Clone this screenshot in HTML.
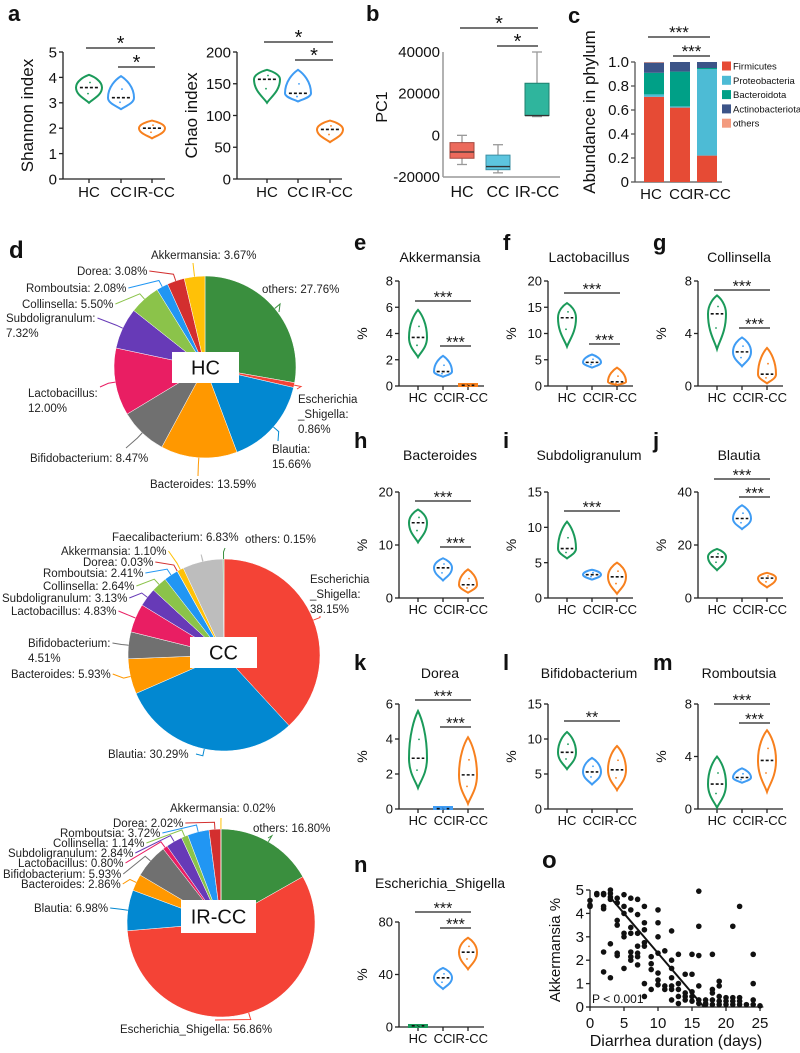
<!DOCTYPE html>
<html><head><meta charset="utf-8"><style>
html,body{margin:0;padding:0;background:#fff;}
svg{display:block;font-family:"Liberation Sans",Arial,sans-serif;}
</style></head><body>
<svg id="fig" width="800" height="1053" viewBox="0 0 800 1053" xmlns="http://www.w3.org/2000/svg"></svg>
<script>
// ---------- DATA ----------
const groups=['HC','CC','IR-CC'];
const shannonMin=[3.0,2.75,1.6], shannonMed=[3.6,3.2,2.0], shannonMax=[4.1,4.05,2.3];
const chaoMin=[120,122,58], chaoMed=[157,135,78], chaoMax=[172,172,92];
const pcLow=[-14000,-18000,9000], pcQ1=[-11000,-16500,9500], pcMed=[-8000,-15000,9500], pcQ3=[-3500,-9500,25000], pcHigh=[0,-4500,40000];
const phyla=['Firmicutes','Proteobacteria','Bacteroidota','Actinobacteriota','others'];
const firmicutes=[0.71,0.62,0.22], proteobacteria=[0.02,0.01,0.72], bacteroidota=[0.18,0.29,0.01], actinobacteriota=[0.085,0.08,0.05], otherPhyla=[0.005,0,0];
const akkMin=[2.2,0.7,0], akkMed=[3.7,1.1,0.05], akkMax=[5.8,2.3,0.2];
const lacMin=[7.5,3.5,0.2], lacMed=[13,4.5,0.8], lacMax=[15.8,6.0,3.5];
const colMin=[2.8,1.5,0.2], colMed=[5.5,2.6,0.9], colMax=[6.9,3.7,2.9];
const bacMin=[10.5,3.3,1], bacMed=[14.2,5.7,2.5], bacMax=[16.7,7.5,5.4];
const subMin=[5.6,2.6,0.6], subMed=[7,3.3,3], subMax=[10.8,4,5];
const blaMin=[10.5,26,4], blaMed=[15.5,30,7.5], blaMax=[18.5,35,9.5];
const dorMin=[1.2,0,0.3], dorMed=[2.9,0.02,1.95], dorMax=[5.6,0.05,4.1];
const bifMin=[5.7,3.5,2.7], bifMed=[8.1,5.3,5.6], bifMax=[11,7.3,9];
const romMin=[0.1,2,1.3], romMed=[1.9,2.4,3.7], romMax=[4,3.1,6];
const escMin=[0,29,44], escMed=[0.9,37.5,57], escMax=[2,45,68];
const hcLabels=['others','Escherichia_Shigella','Blautia','Bacteroides','Bifidobacterium','Lactobacillus','Subdoligranulum','Collinsella','Romboutsia','Dorea','Akkermansia'];
const hcValues=[27.76,0.86,15.66,13.59,8.47,12.00,7.32,5.50,2.08,3.08,3.67];
const ccLabels=['Escherichia_Shigella','Blautia','Bacteroides','Bifidobacterium','Lactobacillus','Subdoligranulum','Collinsella','Romboutsia','Dorea','Akkermansia','Faecalibacterium','others'];
const ccValues=[38.15,30.29,5.93,4.51,4.83,3.13,2.64,2.41,0.03,1.10,6.83,0.15];
const irLabels=['others','Escherichia_Shigella','Blautia','Bacteroides','Bifidobacterium','Lactobacillus','Subdoligranulum','Collinsella','Romboutsia','Dorea','Akkermansia'];
const irValues=[16.80,56.86,6.98,2.86,5.93,0.80,2.84,1.14,3.72,2.02,0.02];
const dayVals=[0,0,0,1,1,2,2,2,2,2,2,3,3,3,3,3,3,4,4,4,4,4,4,5,5,5,5,5,5,6,6,6,6,6,6,6,7,7,7,7,7,7,7,8,8,8,8,8,8,8,9,9,9,9,10,10,10,10,10,10,10,11,11,11,12,12,12,12,12,12,12,13,13,13,13,13,14,14,14,14,15,15,15,15,15,16,16,16,16,16,16,17,17,17,18,18,18,18,18,19,19,19,19,19,20,20,20,21,21,21,21,22,22,22,22,23,24,24,24,24,25];
const akkVals=[4.55,4.35,4.3,4.85,4.8,4.85,4.8,4.3,4.2,2.35,1.5,5,4.85,4.7,4.6,1.25,2.7,4.65,4.45,3.7,3.5,2.3,2.2,4.8,4.3,4.0,3.15,3.0,1.65,4.65,4.15,3.4,3.15,2.35,2.15,2.0,4.6,3.95,3.15,2.6,2.3,2.15,1.8,4.3,3.6,3.3,2.75,2.6,1.0,0.45,2.15,1.85,1.6,0.75,4.15,3.6,3.0,2.3,1.45,1.15,0.95,2.4,0.9,0.75,3.25,2.0,1.65,1.25,0.9,0.75,0.3,2.25,1.0,0.75,0.45,0.15,1.4,0.6,0.45,0.3,2.25,1.4,0.65,0.45,0.25,4.95,3.45,2.2,0.9,0.3,0.15,0.3,0.15,0.1,2.25,0.75,0.6,0.3,0.1,1.1,0.9,0.45,0.25,0.1,0.4,0.25,0.1,3.45,0.4,0.25,0.1,4.3,0.4,0.25,0.1,0.1,2.25,1.0,0.3,0.1,0.05];
const regLine=[5.7,-0.34];

// ---------- HELPERS ----------
const NS='http://www.w3.org/2000/svg';
const svg=document.getElementById('fig');
const GC=['#1b9a5a','#3f9cf4','#f7801e'];
function mk(tag,attrs,parent){const e=document.createElementNS(NS,tag);for(const k in attrs)e.setAttribute(k,attrs[k]);(parent||svg).appendChild(e);return e;}
function grp(name,parent){const g=mk('g',{},parent);


return g;}
function txt(s,x,y,size,anchor,parent,extra){const t=mk('text',Object.assign({x:x,y:y,'font-size':size,'text-anchor':anchor||'start',fill:'#111'},extra||{}),parent);t.textContent=s;return t;}
function line(x1,y1,x2,y2,stroke,w,parent){return mk('line',{x1:x1,y1:y1,x2:x2,y2:y2,stroke:stroke,'stroke-width':w},parent);}

function violinPath(cx,yMax,yMed,yMin,hw){
  if(yMin-yMax<3){return `M${cx-hw},${yMin} L${cx+hw},${yMin} L${cx+hw},${yMin-2} L${cx-hw},${yMin-2} Z`;}
  const a=yMed-yMax,b=yMin-yMed;
  return `M${cx},${yMax} C${cx+hw*0.4},${yMax+a*0.15} ${cx+hw},${yMed-a*0.5} ${cx+hw},${yMed} C${cx+hw},${yMed+b*0.5} ${cx+hw*0.3},${yMin-b*0.25} ${cx},${yMin} C${cx-hw*0.3},${yMin-b*0.25} ${cx-hw},${yMed+b*0.5} ${cx-hw},${yMed} C${cx-hw},${yMed-a*0.5} ${cx-hw*0.4},${yMax+a*0.15} ${cx},${yMax} Z`;
}

function violinPanel(cfg){
  const g=grp('panel-'+cfg.id);
  const ys=v=>cfg.base-v/cfg.max*(cfg.base-cfg.top);
  const cats=cfg.offs.map(o=>cfg.ax+o);
  if(cfg.letter){const L=txt(cfg.letter,cfg.lx,cfg.ly,22,'start',g,{'font-weight':'bold'});
  
  }
  if(cfg.title){const T=txt(cfg.title,cfg.ax+41,cfg.ty,14,'middle',g);
  
  }
  const yl=txt(cfg.ylabel||'%',0,0,cfg.yfs||14,'middle',g,{transform:`translate(${cfg.ylx||cfg.ax-32},${(cfg.top+cfg.base)/2}) rotate(-90)`});
  
  
  const ax=line(cfg.ax,cfg.top,cfg.ax,cfg.base,'#222',1.3,g);
  
  
  const xa=line(cfg.ax,cfg.base,cfg.ax+cfg.xlen,cfg.base,'#222',1.3,g);
  
  
  cfg.ticks.forEach(t=>{const tk=line(cfg.ax-4,ys(t),cfg.ax,ys(t),'#222',1.3,g);
    
    
    const tl=txt(String(t),cfg.ax-6,ys(t)+cfg.tfs*0.36,cfg.tfs,'end',g);
    
    });
  cats.forEach((cx,i)=>{const tk=line(cx,cfg.base,cx,cfg.base+4,'#222',1.3,g);
    
    
    const tl=txt(groups[i],cx+(i===2?2:0),cfg.base+cfg.xfs+3,cfg.xfs,'middle',g);
    
    
    const p=mk('path',{d:violinPath(cx,ys(cfg.mx[i]),ys(cfg.md[i]),ys(cfg.mn[i]),cfg.hw),fill:'#fff',stroke:GC[i],'stroke-width':2},g);
    
    
    const m=line(cx-cfg.hw*0.7,ys(cfg.md[i]),cx+cfg.hw*0.7,ys(cfg.md[i]),'#111',1.6,g);
    m.setAttribute('stroke-dasharray','3,2');
    
    
    [0.4,-0.4].forEach(f=>{const yq=ys(cfg.md[i]+(f>0?(cfg.mx[i]-cfg.md[i]):(cfg.md[i]-cfg.mn[i]))*f);
      const d=mk('circle',{cx:cx+(f>0?1:-1),cy:yq,r:0.9,fill:GC[i]},g);
      
      });
  });
  cfg.sig.forEach(s=>{const y=cfg.top+s[2];const x1=cats[s[0]]-3,x2=cats[s[1]]+3;
    const l=line(x1,y,x2,y,'#222',1.2,g);
    
    
    const st=txt(s[3],(x1+x2)/2,y+(cfg.sfs||16)*0.1,cfg.sfs||16,'middle',g);
    
    });
}

// ---------- PANEL A ----------
const la=txt('a',8,21,22,'start',svg,{'font-weight':'bold'});


violinPanel({id:'a-shannon',ax:63,top:52,base:179,max:5,ticks:[0,1,2,3,4,5],offs:[26,58,89],xlen:102,hw:13,tfs:15,xfs:15,sfs:20,
  ylabel:'Shannon index',yfs:17,ylx:33,mn:shannonMin,md:shannonMed,mx:shannonMax,sig:[[0,2,-4,'*'],[1,2,15,'*']]});
violinPanel({id:'a-chao',ax:237,top:52,base:179,max:200,ticks:[0,50,100,150,200],offs:[30,61,93],xlen:105,hw:13,tfs:15,xfs:15,sfs:20,
  ylabel:'Chao index',yfs:17,ylx:197,mn:chaoMin,md:chaoMed,mx:chaoMax,sig:[[0,2,-10,'*'],[1,2,8,'*']]});

// ---------- PANEL B ----------
(function(){
  const g=grp('panel-b-pc1');
  const L=txt('b',366,21,22,'start',g,{'font-weight':'bold'});
  
  
  const ax=443,top=52,base=177,vmin=-20000,vmax=40000;
  const ys=v=>base-(v-vmin)/(vmax-vmin)*(base-top);
  const cats=[462,498,537];
  const cols=['#ec6a5c','#5dc5df','#2fb59d'];
  const edge=['#a5483e','#3b8fa3','#1f806e'];
  const a=line(ax,top,ax,base,'#999',1.5,g);
  
  
  const xa=line(ax,base,560,base,'#999',1.5,g);
  
  
  [-20000,0,20000,40000].forEach(t=>{const tl=txt(t<0?'-'+Math.abs(t):String(t),ax-3,ys(t)+5,15,'end',g);
    
    });
  const yl=txt('PC1',0,0,16,'middle',g,{transform:'translate(387,107) rotate(-90)'});
  
  
  cats.forEach((cx,i)=>{
    const w=line(cx,ys(pcHigh[i]),cx,ys(pcLow[i]),'#999',1.3,g);
    
    
    [pcHigh[i],pcLow[i]].forEach(v=>{const c=line(cx-5,ys(v),cx+5,ys(v),'#999',1.3,g);
      
      });
    const b=mk('rect',{x:cx-12,y:ys(pcQ3[i]),width:24,height:Math.max(1,ys(pcQ1[i])-ys(pcQ3[i])),fill:cols[i],stroke:edge[i],'stroke-width':1},g);
    
    
    const m=line(cx-12,ys(pcMed[i]),cx+12,ys(pcMed[i]),'#333',1.3,g);
    
    
    const tl=txt(groups[i],cx,197,16,'middle',g);
    
    
  });
  [[460,538,28,'*'],[497,538,46,'*']].forEach(s=>{const l=line(s[0],s[2],s[1],s[2],'#222',1.2,g);
    
    
    const st=txt(s[3],(s[0]+s[1])/2,s[2]+2,20,'middle',g);
    
    });
})();

// ---------- PANEL C ----------
(function(){
  const g=grp('panel-c-phylum');
  const L=txt('c',568,23,22,'start',g,{'font-weight':'bold'});
  
  
  const ax=635,top=62,base=182;
  const ys=v=>base-v*(base-top);
  const cats=[654,680,707];
  const cols=['#e64b35','#4dbbd5','#00a087','#3c5488','#f39b7f'];
  const series=[firmicutes,proteobacteria,bacteroidota,actinobacteriota,otherPhyla];
  const a=line(ax,top,ax,base,'#555',1.3,g);
  
  
  const xa=line(ax,base,722,base,'#555',1.3,g);
  
  
  [0,0.2,0.4,0.6,0.8,1.0].forEach(t=>{const tk=line(ax-4,ys(t),ax,ys(t),'#555',1.3,g);
    
    
    const tl=txt(t===0?'0':t.toFixed(1),ax-6,ys(t)+5,15,'end',g);
    
    });
  const yl=txt('Abundance in phylum',0,0,17,'middle',g,{transform:'translate(595,112) rotate(-90)'});
  
  
  cats.forEach((cx,i)=>{let acc=0;
    series.forEach((s,k)=>{if(s[i]<=0)return;const y1=ys(acc+s[i]),y0=ys(acc);acc+=s[i];
      const r=mk('rect',{x:cx-10,y:y1,width:20,height:y0-y1,fill:cols[k]},g);
      
      });
    const tl=txt(groups[i],cx+(i===2?3:(i===0?-3:0)),199,15,'middle',g);
    
    });
  phyla.forEach((p,k)=>{const y=66+k*14.3;
    const sq=mk('rect',{x:722,y:y-4.5,width:9,height:9,fill:cols[k]},g);
    
    
    const t=txt(p,733,y+3.5,9.5,'start',g);
    
    });
  [[648,710,37,'***'],[673,710,56,'***']].forEach(s=>{const l=line(s[0],s[2],s[1],s[2],'#222',1.2,g);
    
    
    const st=txt(s[3],(s[0]+s[1])/2,s[2]+1,17,'middle',g);
    
    });
})();

// ---------- PANEL D (pies) ----------
const pieColors={'others':'#3a8f3e','Escherichia_Shigella':'#f44336','Blautia':'#0288d1','Bacteroides':'#ff9800','Bifidobacterium':'#707070','Lactobacillus':'#e91e63','Subdoligranulum':'#673ab7','Collinsella':'#8bc34a','Romboutsia':'#2196f3','Dorea':'#d32f2f','Akkermansia':'#ffc107','Faecalibacterium':'#bdbdbd'};
function pie(id,cx,cy,r,labels,values,layout,box,boxText){
  const g=grp('pie-'+id);
  const total=values.reduce((a,b)=>a+b,0);
  let ang=0;
  const mids=[];
  labels.forEach((lab,i)=>{
    const a0=ang,a1=ang+values[i]/total*Math.PI*2;ang=a1;mids.push((a0+a1)/2);
    const p0=[cx+r*Math.sin(a0),cy-r*Math.cos(a0)],p1=[cx+r*Math.sin(a1),cy-r*Math.cos(a1)];
    const large=(a1-a0)>Math.PI?1:0;
    const s=mk('path',{d:`M${cx},${cy} L${p0[0]},${p0[1]} A${r},${r} 0 ${large} 1 ${p1[0]},${p1[1]} Z`,fill:pieColors[lab],stroke:'#fff','stroke-width':0.5},g);
    
    
  });
  labels.forEach((lab,i)=>{
    const L=layout[lab];if(!L)return;
    const val=values[i].toFixed(2)+'%';
    let lines;
    if(L.split==='name')lines=[lab+':',val];
    else if(L.split==='esch')lines=['Escherichia','_Shigella:',val];
    else lines=[lab+': '+val];
    const t=mk('text',{x:L.x,y:L.y,'font-size':11.5,fill:'#222'},g);
    lines.forEach((ln,k)=>{const ts=mk('tspan',{x:L.x,dy:k?15:0},t);ts.textContent=ln;});
    
    
    const bb=t.getBBox();
    const firstW=t.firstChild.getComputedTextLength();
    const m=mids[i];
    const e=[cx+r*Math.sin(m),cy-r*Math.cos(m)],q=[cx+(r+7)*Math.sin(m),cy-(r+7)*Math.cos(m)];
    let axx=(bb.x+bb.width/2<cx)?L.x+firstW+2:L.x-2, ayy=L.y-4;
    if(L.ax!==undefined){axx=L.ax;ayy=L.ay;}
    const ld=mk('polyline',{points:`${e[0]},${e[1]} ${q[0]},${q[1]} ${axx},${ayy}`,fill:'none',stroke:pieColors[lab],'stroke-width':1},g);
    
    
  });
  const bx=mk('rect',{x:box[0],y:box[1],width:box[2],height:box[3],fill:'#fff'},g);
  
  
  const bt=txt(boxText,box[0]+box[2]/2,box[1]+box[3]/2+7,20,'middle',g);
  
  
}
const ld=txt('d',9,258,24,'start',svg,{'font-weight':'bold'});


pie('hc',205,367,91,hcLabels,hcValues,{
  'Akkermansia':{x:151,y:259,ax:193,ay:263},'Dorea':{x:77,y:275},'Romboutsia':{x:26,y:292},'Collinsella':{x:22,y:308},
  'Subdoligranulum':{x:6,y:322,split:'name'},'others':{x:262,y:293,ax:279,ay:312},'Escherichia_Shigella':{x:298,y:403,split:'esch',ax:297,ay:389},
  'Lactobacillus':{x:28,y:397,split:'name',ax:100,ay:387},'Bifidobacterium':{x:30,y:462,ax:126,ay:448},'Bacteroides':{x:150,y:488,ax:198,ay:476},
  'Blautia':{x:272,y:453,split:'name',ax:278,ay:441}},[172,352,67,31],'HC');
pie('cc',224,655,96,ccLabels,ccValues,{
  'Faecalibacterium':{x:112,y:541,ax:203,ay:561},'others':{x:245,y:543,ax:225,ay:548},'Akkermansia':{x:61,y:555},'Dorea':{x:83,y:566},
  'Romboutsia':{x:43,y:577},'Collinsella':{x:43,y:590},'Subdoligranulum':{x:2,y:602},'Lactobacillus':{x:11,y:615},
  'Bifidobacterium':{x:28,y:647,split:'name'},'Bacteroides':{x:11,y:678},'Escherichia_Shigella':{x:310,y:583,split:'esch',ax:320,ay:616},
  'Blautia':{x:108,y:758,ax:196,ay:754}},[190,637,67,31],'CC');
pie('ir',221,923,94,irLabels,irValues,{
  'Akkermansia':{x:170,y:812,ax:221,ay:818},'others':{x:253,y:832,ax:268,ay:838},'Dorea':{x:113,y:827},'Romboutsia':{x:60,y:837},
  'Collinsella':{x:53,y:847},'Subdoligranulum':{x:8,y:857},'Lactobacillus':{x:18,y:867},'Bifidobacterium':{x:3,y:878},
  'Bacteroides':{x:21,y:888},'Blautia':{x:34,y:912},'Escherichia_Shigella':{x:120,y:1033,ax:215,ay:1020}},[181,900,75,33],'IR-CC');

// ---------- PANELS E-N ----------
const vp=[
 {id:'e',letter:'e',title:'Akkermansia',ax:399,top:281,base:386,max:8,ticks:[0,2,4,6,8],mn:akkMin,md:akkMed,mx:akkMax,sig:[[0,2,20,'***'],[1,2,65,'***']]},
 {id:'f',letter:'f',title:'Lactobacillus',ax:548,top:281,base:386,max:20,ticks:[0,5,10,15,20],mn:lacMin,md:lacMed,mx:lacMax,sig:[[0,2,12,'***'],[1,2,63,'***']]},
 {id:'g',letter:'g',title:'Collinsella',ax:698,top:281,base:386,max:8,ticks:[0,4,8],mn:colMin,md:colMed,mx:colMax,sig:[[0,2,9,'***'],[1,2,47,'***']]},
 {id:'h',letter:'h',title:'Bacteroides',ax:399,top:492,base:598,max:20,ticks:[0,10,20],mn:bacMin,md:bacMed,mx:bacMax,sig:[[0,2,9,'***'],[1,2,55,'***']]},
 {id:'i',letter:'i',title:'Subdoligranulum',ax:548,top:492,base:598,max:15,ticks:[0,5,10,15],mn:subMin,md:subMed,mx:subMax,sig:[[0,2,19,'***']]},
 {id:'j',letter:'j',title:'Blautia',ax:698,top:492,base:598,max:40,ticks:[0,20,40],mn:blaMin,md:blaMed,mx:blaMax,sig:[[0,2,-13,'***'],[1,2,5,'***']]},
 {id:'k',letter:'k',title:'Dorea',ax:399,top:704,base:809,max:6,ticks:[0,2,4,6],mn:dorMin,md:dorMed,mx:dorMax,sig:[[0,2,-4,'***'],[1,2,23,'***']]},
 {id:'l',letter:'l',title:'Bifidobacterium',ax:548,top:704,base:809,max:15,ticks:[0,5,10,15],mn:bifMin,md:bifMed,mx:bifMax,sig:[[0,2,17,'**']]},
 {id:'m',letter:'m',title:'Romboutsia',ax:698,top:704,base:809,max:8,ticks:[0,4,8],mn:romMin,md:romMed,mx:romMax,sig:[[0,2,0,'***'],[1,2,19,'***']]},
 {id:'n',letter:'n',title:'Escherichia_Shigella',ax:399,top:922,base:1027,max:80,ticks:[0,40,80],mn:escMin,md:escMed,mx:escMax,sig:[[0,2,-10,'***'],[1,2,6,'***']]}
];
const rowY={281:[250,262],492:[448,460],704:[670,678],922:[872,888]};
vp.forEach(c=>{c.offs=[19,44,69];c.xlen=85;c.hw=9;c.tfs=13;c.xfs=13;c.sfs=16;c.lx=c.ax-45;c.ly=rowY[c.top][0];c.ty=rowY[c.top][1];violinPanel(c);});

// ---------- PANEL O ----------
(function(){
  const g=grp('panel-o-scatter');
  const L=txt('o',542,868,24,'start',g,{'font-weight':'bold'});
  
  
  const x0=590,y0=1007,ytop=890;
  const xs=d=>x0+d*6.8, ys=v=>y0-v/5*(y0-ytop);
  const a=line(x0,ytop,x0,y0,'#222',1.3,g);
  
  
  const xa=line(x0,y0,xs(25.5),y0,'#222',1.3,g);
  
  
  [0,1,2,3,4,5].forEach(t=>{const tk=line(x0-4,ys(t),x0,ys(t),'#222',1.3,g);
    
    
    const tl=txt(String(t),x0-6,ys(t)+5,15,'end',g);
    
    });
  [0,5,10,15,20,25].forEach(t=>{const tk=line(xs(t),y0,xs(t),y0+4,'#222',1.3,g);
    
    
    const tl=txt(String(t),xs(t),y0+21,15,'middle',g);
    
    });
  const xt=txt('Diarrhea duration (days)',676,1046,16,'middle',g);
  
  
  const yt=txt('Akkermansia %',0,0,15,'middle',g,{transform:'translate(560,950) rotate(-90)'});
  
  
  dayVals.forEach((d,i)=>{const c=mk('circle',{cx:xs(d),cy:ys(akkVals[i]),r:2.8,fill:'#111'},g);
    
    });
  const xEnd=-regLine[0]/regLine[1];
  const rl=line(xs(3),ys(regLine[0]+regLine[1]*3),xs(xEnd),ys(0),'#111',2,g);
  
  
  const p=txt('P < 0.001',592,1003,12,'start',g);
  
  
})();
</script>
</body></html>
